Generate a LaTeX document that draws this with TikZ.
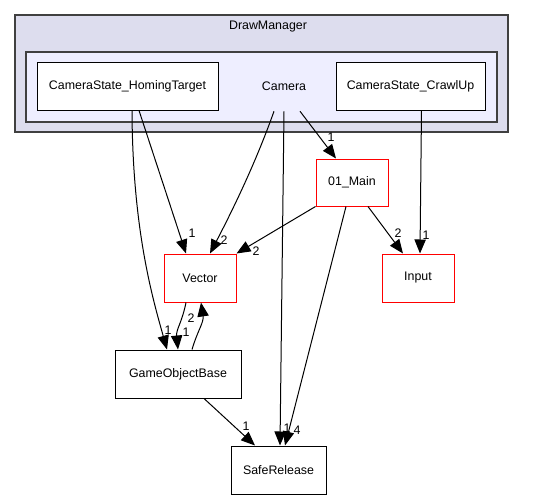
\documentclass[tikz,border=0pt]{standalone}
\usepackage{fontspec}
\setmainfont{Liberation Sans}
\usepackage{xcolor}
\usepackage{tikz}
\usetikzlibrary{arrows.meta,calc}
\definecolor{dirouter}{HTML}{DDDDEE}
\definecolor{dirinner}{HTML}{EEEEFF}
\definecolor{dirframe}{HTML}{404040}

\tikzset{
  dirbox/.style={draw=black,fill=white,line width=0.75pt,inner sep=0pt,
    font=\fontsize{9.3}{11}\selectfont,minimum height=36pt},
  extbox/.style={dirbox,draw=red},
  deplbl/.style={inner sep=0pt,font=\fontsize{9.3}{11}\selectfont},
  dep/.style={line width=0.75pt,-{Triangle[length=10.5pt,width=8.5pt]}}
}

\begin{document}
\begin{tikzpicture}[x=0.75pt,y=-0.75pt]
  \useasboundingbox (0,0) rectangle (536,500);
  % directory clusters
  \filldraw[fill=dirouter,draw=dirframe,line width=1.3pt] (15,15) rectangle (508,132);
  \node[deplbl] (drawmgr) at (268,27) {DrawManager};
  \filldraw[fill=dirinner,draw=dirframe,line width=1.3pt] (26,52) rectangle (497,122);
  \node[deplbl,minimum height=37.5pt,minimum width=30pt] (camera) at (284,86) {Camera};
  \node[dirbox,minimum width=135.75pt] (homing) at (127.5,86) {CameraState\_HomingTarget};
  \node[dirbox,minimum width=111.75pt] (crawl) at (410.5,86) {CameraState\_CrawlUp};
  % other directories
  \node[extbox,minimum width=54pt,minimum height=35.25pt] (main) at (352,182.5) {01\_Main};
  \node[extbox,minimum width=54pt] (vector) at (200,278) {Vector};
  \node[extbox,minimum width=54pt] (input) at (418,278) {Input};
  \node[dirbox,minimum width=94.5pt] (gob) at (178,374) {GameObjectBase};
  \node[dirbox,minimum width=71.25pt] (safe) at (278.5,470) {SafeRelease};
  % dependencies
  \draw[dep] ($(homing.south)+(4.5,0)$) .. controls ($(homing.south)+(5,120)$) and ($(gob.north)+(-25,-50)$) .. ($(gob.north)+(-11,0)$);
  \draw[dep] ($(homing.south)+(11.5,0)$) -- ($(vector.north)+(-14,0)$);
  \draw[dep] ($(camera.south)+(-10,0)$) .. controls ($(camera.south)+(-27,48)$) and ($(vector.north)+(35,-48)$) .. ($(vector.north)+(10,0)$);
  \draw[dep] (camera.south) -- ($(safe.north)+(1.5,0)$);
  \draw[dep] ($(camera.south)+(16,0)$) -- ($(main.north)+(-16,0)$);
  \draw[dep] ($(crawl.south)+(11,0)$) -- ($(input.north)+(2,0)$);
  \draw[dep] (main.south west) -- (vector.north east);
  \draw[dep] ($(main.south)+(16,0)$) -- ($(input.north)+(-15,0)$);
  \draw[dep] ($(main.south)+(-6,0)$) -- ($(safe.north)+(6.5,0)$);
  \draw[dep] ($(vector.south)+(-14,0)$) .. controls ($(vector.south)+(-18,20)$) and ($(gob.north)+(-2,-20)$) .. (gob.north);
  \draw[dep] ($(gob.north)+(14,0)$) .. controls ($(gob.north)+(20,-20)$) and ($(vector.south)+(4,20)$) .. ($(vector.south)+(1,0)$);
  \draw[dep] ($(gob.south)+(26,0)$) -- ($(safe.north)+(-23.5,0)$);
  % counts
  \node[deplbl] (nA) at (168,330) {1};
  \node[deplbl] (nB) at (192,233) {1};
  \node[deplbl] (nC) at (224,240) {2};
  \node[deplbl] (nD) at (287,428) {1};
  \node[deplbl] (nE) at (331,137) {1};
  \node[deplbl] (nF) at (426,235) {1};
  \node[deplbl] (nG) at (256,251) {2};
  \node[deplbl] (nH) at (398,233) {2};
  \node[deplbl] (nI) at (297,430) {4};
  \node[deplbl] (nJ) at (186,332) {1};
  \node[deplbl] (nK) at (191,318) {2};
  \node[deplbl] (nL) at (246,426) {1};
\end{tikzpicture}
\end{document}
